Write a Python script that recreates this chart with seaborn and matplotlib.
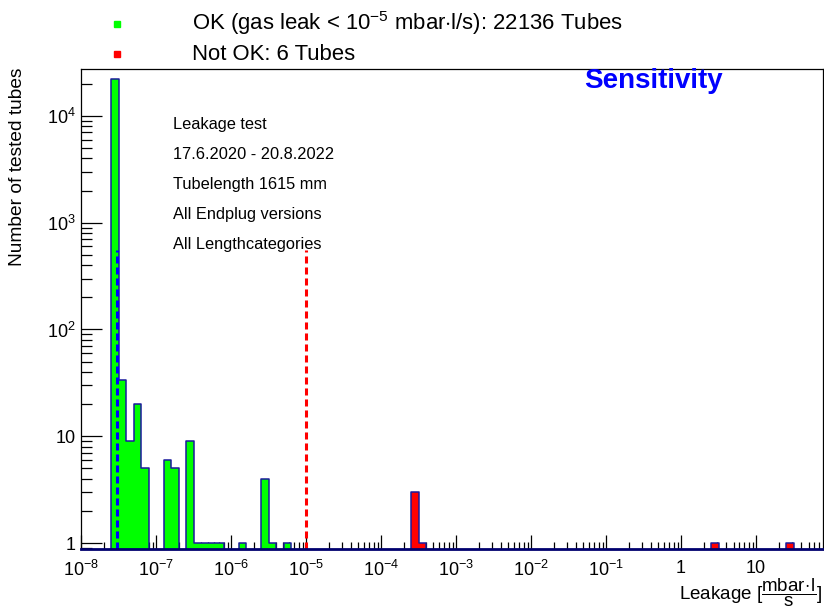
import numpy as np
import pandas as pd
import matplotlib
matplotlib.use("Agg")
import matplotlib.pyplot as plt
import seaborn as sns
from matplotlib.ticker import FixedLocator, FixedFormatter, NullFormatter, LogLocator
from matplotlib.lines import Line2D

# ---------------- data ----------------
# histogram bins: log10 of the lower bin edge, bin width 0.1 decade
ok_bin_log10 = [-7.6, -7.5, -7.4, -7.3, -7.2, -6.9, -6.8, -6.6,
                -6.5, -6.4, -6.3, -6.2, -5.9, -5.6, -5.5, -5.3]
ok_counts = [22037, 34, 9, 20, 5, 6, 5, 9, 1, 1, 1, 1, 1, 4, 1, 1]
notok_bin_log10 = [-3.6, -3.5, 0.4, 1.4]
notok_counts = [3, 1, 1, 1]
bin_width_log10 = 0.1
bin_range_log10 = (-8, 2)

sensitivity_limit = 3e-8      # blue dashed line
leak_limit = 1e-5             # red dashed line
limit_line_top = 550

x_ticks = [1e-8, 1e-7, 1e-6, 1e-5, 1e-4, 1e-3, 1e-2, 1e-1, 1, 10]
x_tick_labels = [r"$10^{-8}$", r"$10^{-7}$", r"$10^{-6}$", r"$10^{-5}$", r"$10^{-4}$",
                 r"$10^{-3}$", r"$10^{-2}$", r"$10^{-1}$", "1", "10"]
y_ticks = [1, 10, 100, 1000, 10000]
y_tick_labels = ["1", "10", r"$10^{2}$", r"$10^{3}$", r"$10^{4}$"]
x_lim = (1e-8, 78)
y_lim = (0.88, 27500)

legend_labels = [r"OK (gas leak < 10$^{\mathregular{-5}}$ mbar$\cdot$l/s): 22136 Tubes",
                 "Not OK: 6 Tubes"]
info_lines = ["Leakage test", "17.6.2020 - 20.8.2022", "Tubelength 1615 mm",
              "All Endplug versions", "All Lengthcategories"]

# ---------------- style ----------------
sns.set_theme(style="white")
plt.rcParams["font.family"] = ["Liberation Sans", "DejaVu Sans"]
plt.rcParams["mathtext.fontset"] = "custom"
plt.rcParams["mathtext.rm"] = "Liberation Sans"
plt.rcParams["mathtext.it"] = "Liberation Sans:italic"
plt.rcParams["mathtext.bf"] = "Liberation Sans:bold"
for k in ["text.color", "axes.labelcolor", "xtick.color", "ytick.color"]:
    plt.rcParams[k] = "black"

W, H = 824, 611
fig = plt.figure(figsize=(W / 100, H / 100), dpi=100)
ax = fig.add_axes([81 / W, 1 - 549 / H, (823 - 81) / W, (549 - 69) / H])

edge = "#1a1a9c"
green = (0.0, 1.0, 0.0, 1.0)
red = (1.0, 0.0, 0.0, 1.0)

df_ok = pd.DataFrame({"leak": 10 ** (np.array(ok_bin_log10) + bin_width_log10 / 2),
                      "n": ok_counts})
df_bad = pd.DataFrame({"leak": 10 ** (np.array(notok_bin_log10) + bin_width_log10 / 2),
                       "n": notok_counts})

for df, fc in [(df_ok, green), (df_bad, red)]:
    sns.histplot(data=df, x="leak", weights="n", log_scale=True,
                 binwidth=bin_width_log10, binrange=bin_range_log10,
                 element="step", fill=True, facecolor=fc, edgecolor=edge,
                 linewidth=1.1, alpha=1, ax=ax)

ax.set_yscale("log")
ax.set_xlim(*x_lim)
ax.set_ylim(*y_lim)

# threshold lines
ax.plot([sensitivity_limit, sensitivity_limit], [y_lim[0], limit_line_top],
        color="#0000ff", lw=2.2, linestyle=(0, (2.3, 1.3)), zorder=5)
ax.plot([leak_limit, leak_limit], [y_lim[0], limit_line_top],
        color="#ff0000", lw=2.2, linestyle=(0, (2.3, 1.3)), zorder=5)

ax.set_xlabel("")
ax.set_ylabel("")

# ticks
ax.xaxis.set_major_locator(FixedLocator(x_ticks))
ax.xaxis.set_major_formatter(FixedFormatter(x_tick_labels))
ax.xaxis.set_minor_locator(LogLocator(base=10, subs=np.arange(2, 10), numticks=100))
ax.xaxis.set_minor_formatter(NullFormatter())
ax.yaxis.set_major_locator(FixedLocator(y_ticks))
ax.yaxis.set_major_formatter(FixedFormatter(y_tick_labels))
ax.yaxis.set_minor_locator(LogLocator(base=10, subs=np.arange(2, 10), numticks=100))
ax.yaxis.set_minor_formatter(NullFormatter())

ax.tick_params(axis="x", which="major", direction="in", length=10, width=0.9,
               labelsize=13, pad=8, color="black", labelcolor="black", top=False, bottom=True)
ax.tick_params(axis="x", which="minor", direction="in", length=5, width=0.9,
               color="black", top=False, bottom=True)
ax.tick_params(axis="y", which="major", direction="in", length=15, width=0.9,
               labelsize=13, pad=4, color="black", labelcolor="black", left=True, right=False)
ax.tick_params(axis="y", which="minor", direction="in", length=8, width=0.9,
               color="black", left=True, right=False)

for s in ["left", "top", "right"]:
    ax.spines[s].set_color("black")
    ax.spines[s].set_linewidth(0.9)
ax.spines["bottom"].set_color("#00006e")
ax.spines["bottom"].set_linewidth(2)
ax.spines["bottom"].set_zorder(6)

# texts inside plot
for i, t in enumerate(info_lines):
    fig.text(173 / W, 1 - (129 + 30 * i) / H, t, fontsize=11.8,
             ha="left", va="baseline", color="black")

fig.text(584 / W, 1 - 88 / H, "Sensitivity", fontsize=20, fontweight="bold",
         color="#0000ff", ha="left", va="baseline")

# legend (markers + text above the frame)
for yb, yc, col, lab in [(30, 23.5, green, legend_labels[0]), (60, 53.5, red, legend_labels[1])]:
    fig.add_artist(Line2D([117 / W], [1 - yc / H], marker="s", markersize=5,
                          color=col, linestyle="none", transform=fig.transFigure))
    fig.text(192 / W, 1 - yb / H, lab, fontsize=15.9, ha="left", va="baseline",
             color="black")

# axis titles
fig.text(18 / W, 1 - 68 / H, "Number of tested tubes", rotation=90, fontsize=13.8,
         ha="center", va="top", color="black")
fig.text(823 / W, 1 - 599 / H,
         r"Leakage [$\dfrac{\mathrm{mbar}\!\cdot\!\mathrm{l}}{\mathrm{s}}$]",
         fontsize=13.5, ha="right", va="baseline", color="black")

fig.savefig("out.png", dpi=100)
